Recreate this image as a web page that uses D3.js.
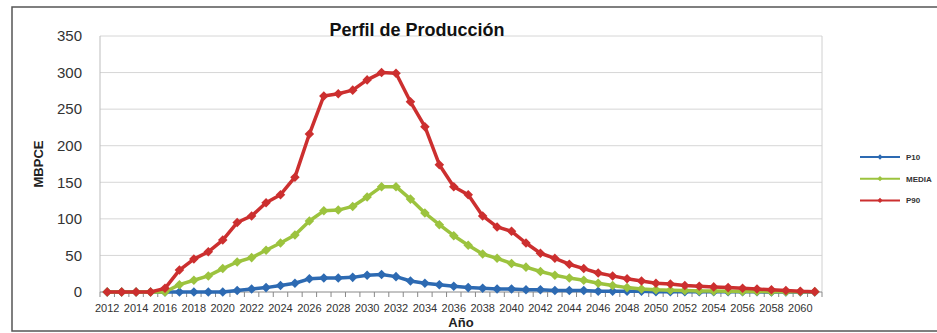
<!DOCTYPE html>
<html>
<head>
<meta charset="utf-8">
<script src="https://cdn.jsdelivr.net/npm/d3@7"></script>
<style>
  body { margin: 0; background: #fff; }
  svg { display: block; font-family: 'Liberation Sans', Arial, sans-serif; }
</style>
</head>
<body>
<div id="chart"></div>
<script>
var years = [2012, 2013, 2014, 2015, 2016, 2017, 2018, 2019, 2020, 2021,
    2022, 2023, 2024, 2025, 2026, 2027, 2028, 2029, 2030, 2031,
    2032, 2033, 2034, 2035, 2036, 2037, 2038, 2039, 2040, 2041,
    2042, 2043, 2044, 2045, 2046, 2047, 2048, 2049, 2050, 2051,
    2052, 2053, 2054, 2055, 2056, 2057, 2058, 2059, 2060, 2061]

var p10 = [0, 0, 0, 0, 0, 0, 0, 0, 0, 2,
    4, 6, 9, 12, 18, 19, 19, 20, 23, 24,
    21, 15, 12, 10, 8, 6, 5, 4, 4, 3,
    3, 2, 2, 2, 1, 1, 1, 1, 0.5, 0.5,
    0.5, 0.4, 0.3, 0.3, 0.2, 0.2, 0.1, 0.1, 0.1, 0]

var media = [0, 0, 0, 0, 0, 10, 16, 22, 32, 41,
    47, 57, 67, 78, 97, 111, 112, 117, 130, 144,
    144, 127, 108, 92, 77, 64, 52, 46, 39, 34,
    28, 23, 19, 16, 12, 9, 6, 4, 3, 2.5,
    2, 1.5, 1.2, 1, 0.8, 0.6, 0.5, 0.4, 0.3, 0.2]

var p90 = [0, 0, 0, 0, 5, 30, 45, 55, 71, 95,
    104, 122, 133, 157, 216, 268, 271, 276, 290, 300,
    299, 260, 226, 174, 144, 133, 104, 89, 83, 67,
    53, 46, 38, 32, 26, 22, 18, 15, 12, 11,
    9, 8, 7, 6, 5, 4, 3, 2, 1, 0.5]

var seriesNames = ['P10', 'MEDIA', 'P90']
var seriesValues = [p10, media, p90]
var seriesColors = ['#2d6ab2', '#9cc33e', '#cc2f2f']
var yTicks = [0, 50, 100, 150, 200, 250, 300, 350]

var width = 937
var height = 333
var plot = {left: 100, right: 822, top: 36, bottom: 292}

var svg = d3.select('#chart')
    .append('svg')
    .attr('width', width)
    .attr('height', height)

// marco exterior del gráfico
svg.append('rect')
    .attr('x', 12)
    .attr('y', 7)
    .attr('width', 940)
    .attr('height', 324)
    .attr('fill', 'none')
    .attr('stroke', '#555')
    .attr('stroke-width', 1.5)

var x = d3.scaleBand()
    .domain(years)
    .range([plot.left, plot.right])
    .paddingInner(0)
    .paddingOuter(0)

var y = d3.scaleLinear()
    .domain([0, 350])
    .range([plot.bottom, plot.top])

function cx(i) {
    return x(years[i]) + x.bandwidth() / 2
}

// rejilla
svg.append('g')
    .selectAll('line')
    .data(yTicks.slice(1))
    .enter()
    .append('line')
    .attr('x1', plot.left)
    .attr('x2', plot.right)
    .attr('y1', d => y(d))
    .attr('y2', d => y(d))
    .attr('stroke', '#d6d6d6')
    .attr('stroke-width', 1)

svg.append('line')
    .attr('x1', plot.right).attr('x2', plot.right)
    .attr('y1', plot.top).attr('y2', plot.bottom)
    .attr('stroke', '#d0d0d0')

svg.append('line')
    .attr('x1', plot.left).attr('x2', plot.left)
    .attr('y1', plot.top).attr('y2', plot.bottom)
    .attr('stroke', '#bdbdbd')

// eje Y
var yAxis = d3.axisLeft(y)
    .tickValues(yTicks)
    .tickSize(0)
    .tickPadding(18)

var yg = svg.append('g')
    .attr('transform', 'translate(' + plot.left + ',0)')
    .call(yAxis)
yg.select('.domain').remove()
yg.selectAll('text')
    .attr('font-size', 15)
    .attr('fill', '#333')
    .attr('font-family', "'Liberation Sans', Arial, sans-serif")

// eje X: marcas entre categorías, etiquetas cada dos años
var xg = svg.append('g')
    .attr('transform', 'translate(0,' + plot.bottom + ')')

xg.append('line')
    .attr('x1', plot.left).attr('x2', plot.right)
    .attr('stroke', '#888')

xg.selectAll('line.tick')
    .data(years.concat([null]))
    .enter()
    .append('line')
    .attr('class', 'tick')
    .attr('x1', (d, i) => i < years.length ? x(d) : plot.right)
    .attr('x2', (d, i) => i < years.length ? x(d) : plot.right)
    .attr('y1', 0)
    .attr('y2', 5)
    .attr('stroke', '#888')

xg.selectAll('text')
    .data(years.filter((d, i) => i % 2 === 0))
    .enter()
    .append('text')
    .attr('x', d => x(d) + x.bandwidth() / 2)
    .attr('y', 20)
    .attr('text-anchor', 'middle')
    .attr('font-size', 11)
    .attr('fill', '#333')
    .text(d => d)

// series
var line = d3.line()
    .x((d, i) => cx(i))
    .y(d => y(d))

var diamond = d3.symbol().type(d3.symbolDiamond2).size(58)

seriesValues.forEach(function(vals, s) {
    var g = svg.append('g').attr('class', 'series')

    g.append('path')
        .datum(vals)
        .attr('d', line)
        .attr('fill', 'none')
        .attr('stroke', seriesColors[s])
        .attr('stroke-width', 3.5)
        .attr('stroke-linejoin', 'round')

    g.selectAll('path.mark')
        .data(vals)
        .enter()
        .append('path')
        .attr('class', 'mark')
        .attr('d', diamond)
        .attr('transform', (d, i) => 'translate(' + cx(i) + ',' + y(d) + ')')
        .attr('fill', seriesColors[s])
})

// títulos
svg.append('text')
    .attr('x', 417)
    .attr('y', 36)
    .attr('text-anchor', 'middle')
    .attr('font-size', 18)
    .attr('font-weight', 'bold')
    .attr('fill', '#111')
    .text('Perfil de Producción')

svg.append('text')
    .attr('transform', 'translate(43,' + ((plot.top + plot.bottom) / 2) + ') rotate(-90)')
    .attr('text-anchor', 'middle')
    .attr('font-size', 13)
    .attr('font-weight', 'bold')
    .attr('fill', '#222')
    .text('MBPCE')

svg.append('text')
    .attr('x', (plot.left + plot.right) / 2)
    .attr('y', 327)
    .attr('text-anchor', 'middle')
    .attr('font-size', 13)
    .attr('font-weight', 'bold')
    .attr('fill', '#222')
    .text('Año')

// leyenda
var legend = svg.append('g')
    .selectAll('g')
    .data(seriesNames)
    .enter()
    .append('g')
    .attr('transform', (d, i) => 'translate(860,' + (157 + i * 21.7) + ')')

legend.append('line')
    .attr('x1', 0).attr('x2', 40)
    .attr('stroke', (d, i) => seriesColors[i])
    .attr('stroke-width', 2)

legend.append('path')
    .attr('d', d3.symbol().type(d3.symbolDiamond2).size(18))
    .attr('transform', 'translate(20,0)')
    .attr('fill', (d, i) => seriesColors[i])

legend.append('text')
    .attr('x', 46)
    .attr('y', 3)
    .attr('font-size', 8)
    .attr('font-weight', 'bold')
    .attr('fill', '#333')
    .text(d => d)
</script>
</body>
</html>
